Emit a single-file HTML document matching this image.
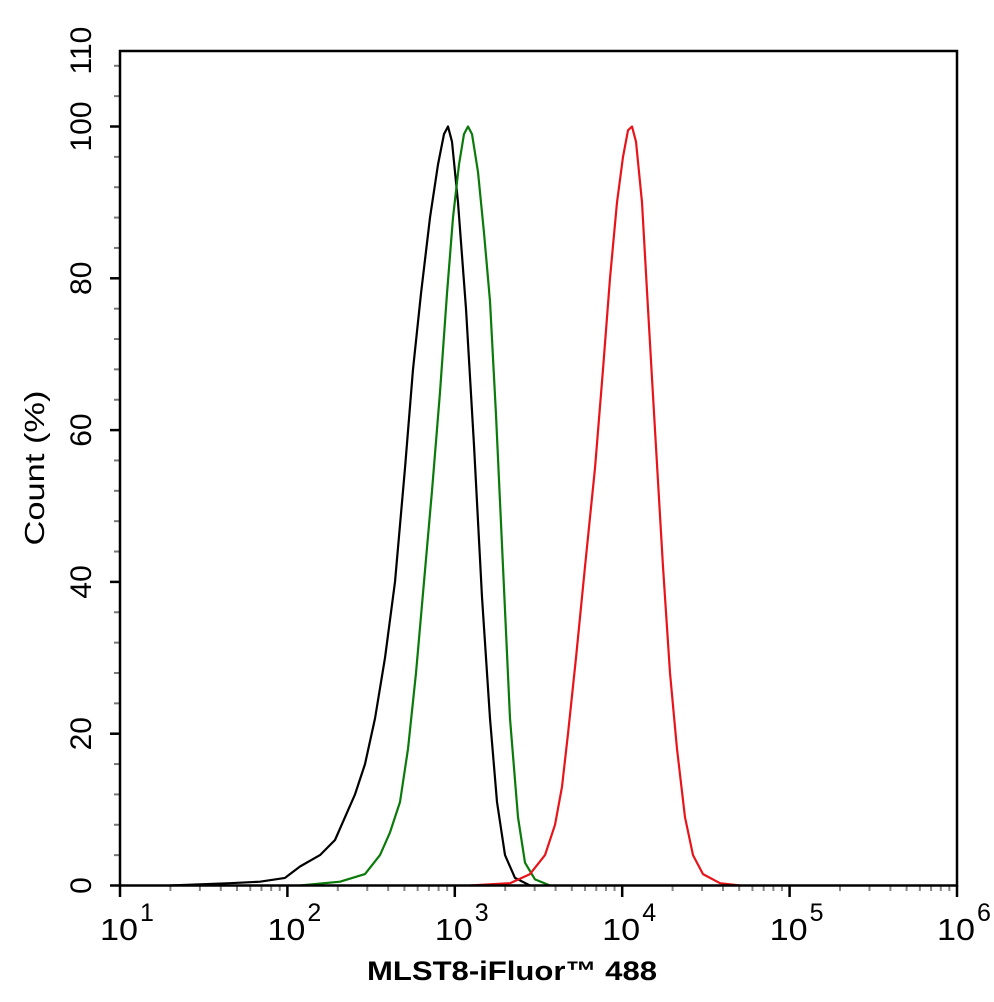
<!DOCTYPE html>
<html><head><meta charset="utf-8"><style>
html,body{margin:0;padding:0;background:#fff;}
svg{display:block;font-family:"Liberation Sans",Arial,sans-serif;}
</style></head><body>
<svg id="s" width="994" height="1002" xmlns="http://www.w3.org/2000/svg">
<rect width="994" height="1002" fill="#fff"/>
<g id="g"></g>
<rect x="120" y="51" width="837" height="834.5" fill="none" stroke="#000" stroke-width="2.5"/>
<text x="0" y="0" font-size="28" transform="translate(44,468) rotate(-90)" text-anchor="middle" textLength="155" lengthAdjust="spacingAndGlyphs">Count  (%)</text>
<text x="512" y="980" font-size="27" font-weight="bold" text-anchor="middle" textLength="290" lengthAdjust="spacingAndGlyphs">MLST8-iFluor™ 488</text>
</svg>
<script>
var g=document.getElementById('g'),h='';
var X0=120,D=167.4,Y0=885.5,K=7.59;
function yv(v){return Y0-v*K;}
for(var v=0;v<=110;v+=4){if(v%20)h+='<line x1="114" x2="120" y1="'+yv(v)+'" y2="'+yv(v)+'" stroke="#777" stroke-width="2"/>';}
for(var v=0;v<=110;v+=20){h+='<line x1="110" x2="120" y1="'+yv(v)+'" y2="'+yv(v)+'" stroke="#000" stroke-width="2.5"/>';}
[0,20,40,60,80,100,110].forEach(function(v){h+='<text font-size="30" text-anchor="middle" transform="translate(91,'+yv(v)+') rotate(-90)">'+v+'</text>';});
for(var d=0;d<=5;d++){var x=X0+d*D;h+='<line x1="'+x+'" x2="'+x+'" y1="885" y2="897" stroke="#000" stroke-width="2.5"/>';
h+='<text x="'+(x-1)+'" y="940" font-size="31" text-anchor="middle" textLength="38" lengthAdjust="spacingAndGlyphs">10</text><text x="'+(x+20)+'" y="921" font-size="25">'+(d+1)+'</text>';
if(d<5)for(var m=2;m<10;m++){var xm=x+Math.log10(m)*D;h+='<line x1="'+xm+'" x2="'+xm+'" y1="885" y2="891" stroke="#888" stroke-width="2"/>';}}
function path(pts,c){var s='M';pts.forEach(function(p,i){s+=(i?' L':'')+p[0]+','+yv(p[1]).toFixed(1);});h+='<path d="'+s+'" fill="none" stroke="'+c+'" stroke-width="2.2" stroke-linejoin="round"/>';}
path([[170,0],[230,0.3],[260,0.5],[285,1],[300,2.5],[320,4],[335,6],[345,9],[355,12],[365,16],[375,22],[385,30],[395,40],[405,55],[413,68],[421,78],[430,88],[438,95],[444,99],[448,100],[452,98],[458,90],[466,76],[474,58],[482,38],[490,22],[497,11],[505,4],[515,1],[530,0]],'#000');
path([[300,0],[340,0.5],[365,1.5],[380,4],[390,7],[400,11],[408,18],[416,28],[424,40],[432,52],[440,65],[447,78],[453,88],[459,95],[464,99],[468,100],[472,99],[478,94],[484,86],[490,77],[496,62],[503,42],[510,22],[518,9],[525,3],[535,0.8],[550,0]],'#0a7a0a');
path([[470,0],[510,0.3],[530,1.5],[545,4],[555,8],[562,13],[568,20],[576,30],[585,42],[595,55],[603,68],[610,80],[617,90],[623,96],[628,99.5],[632,100],[636,98],[642,90],[648,76],[655,60],[663,42],[670,28],[677,18],[685,9],[693,4],[703,1.5],[720,0.3],[740,0]],'#e8141a');
g.innerHTML=h;
</script>
</body></html>
